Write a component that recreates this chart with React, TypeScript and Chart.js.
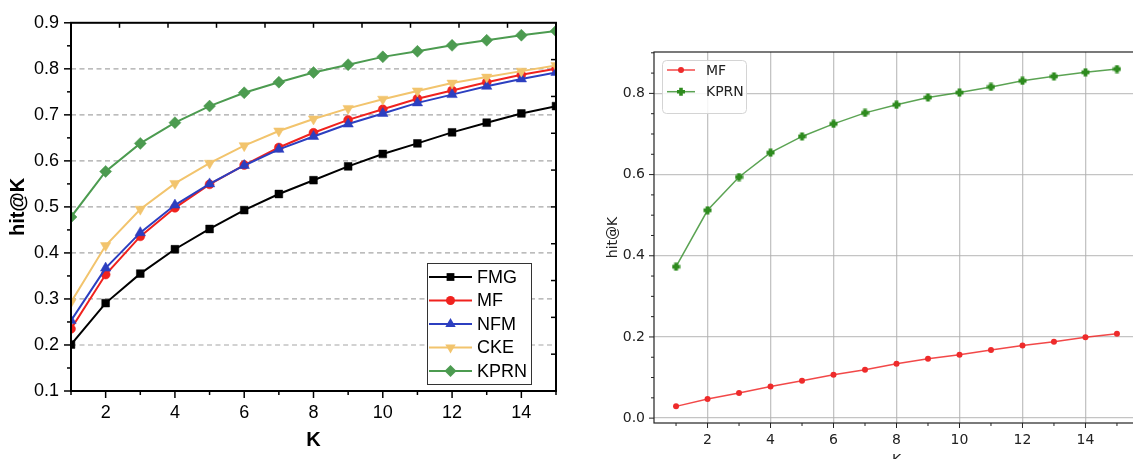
import React, { useEffect, useRef } from 'react';
import { Chart, registerables } from 'chart.js';

Chart.register(...registerables);

// ---------- data ----------
const K = [1, 2, 3, 4, 5, 6, 7, 8, 9, 10, 11, 12, 13, 14, 15];

const leftFMG = [0.201, 0.291, 0.355, 0.408, 0.452, 0.493, 0.528, 0.558, 0.588, 0.615, 0.638, 0.662, 0.683, 0.703, 0.719];
const leftMF = [0.235, 0.353, 0.436, 0.498, 0.549, 0.591, 0.629, 0.661, 0.689, 0.712, 0.735, 0.753, 0.771, 0.787, 0.800];
const leftNFM = [0.253, 0.367, 0.444, 0.504, 0.550, 0.590, 0.625, 0.653, 0.680, 0.703, 0.726, 0.744, 0.762, 0.778, 0.792];
const leftCKE = [0.293, 0.416, 0.495, 0.551, 0.595, 0.633, 0.665, 0.691, 0.714, 0.734, 0.752, 0.769, 0.782, 0.795, 0.807];
const leftKPRN = [0.478, 0.577, 0.638, 0.683, 0.719, 0.748, 0.771, 0.792, 0.809, 0.826, 0.838, 0.851, 0.862, 0.873, 0.882];

const rightMF = [0.029, 0.047, 0.062, 0.078, 0.092, 0.107, 0.119, 0.134, 0.146, 0.156, 0.168, 0.179, 0.188, 0.199, 0.208];
const rightKPRN = [0.373, 0.512, 0.594, 0.654, 0.694, 0.725, 0.752, 0.772, 0.790, 0.802, 0.816, 0.831, 0.842, 0.852, 0.860];

const leftXTicks = [2, 4, 6, 8, 10, 12, 14];
const leftYTicks = [0.1, 0.2, 0.3, 0.4, 0.5, 0.6, 0.7, 0.8, 0.9];
const rightXTicks = [2, 4, 6, 8, 10, 12, 14];
const rightYTicks = [0.0, 0.2, 0.4, 0.6, 0.8];

const leftLabels = ['FMG', 'MF', 'NFM', 'CKE', 'KPRN'];
const leftColors = ['#000000', '#f0221e', '#2c3fc0', '#f2c46d', '#4c9b50'];
const rightLabels = ['MF', 'KPRN'];

const LFONT = '"Liberation Sans", Arial, sans-serif';
const RFONT = '"DejaVu Sans", sans-serif';

// ---------- helpers ----------
function line(ctx: CanvasRenderingContext2D, x1: number, y1: number, x2: number, y2: number) {
  ctx.beginPath();
  ctx.moveTo(x1, y1);
  ctx.lineTo(x2, y2);
  ctx.stroke();
}

function drawMarker(ctx: CanvasRenderingContext2D, style: string, x: number, y: number, r: number, color: string) {
  ctx.save();
  ctx.fillStyle = color;
  ctx.beginPath();
  if (style === 'circle') {
    ctx.arc(x, y, r, 0, Math.PI * 2);
  } else if (style === 'rect') {
    const s = r * Math.SQRT1_2;
    ctx.rect(x - s, y - s, 2 * s, 2 * s);
  } else if (style === 'triangle') {
    ctx.moveTo(x, y - r);
    ctx.lineTo(x + r * 0.866, y + r * 0.5);
    ctx.lineTo(x - r * 0.866, y + r * 0.5);
    ctx.closePath();
  } else if (style === 'triangleDown') {
    ctx.moveTo(x, y + r);
    ctx.lineTo(x + r * 0.866, y - r * 0.5);
    ctx.lineTo(x - r * 0.866, y - r * 0.5);
    ctx.closePath();
  } else if (style === 'rectRot') {
    ctx.moveTo(x, y - r);
    ctx.lineTo(x + r, y);
    ctx.lineTo(x, y + r);
    ctx.lineTo(x - r, y);
    ctx.closePath();
  } else if (style === 'plus') {
    ctx.rect(x - 1.8, y - 4, 3.6, 8);
    ctx.rect(x - 4, y - 1.8, 8, 3.6);
  }
  ctx.fill();
  ctx.restore();
}

const leftMarkers = ['rect', 'circle', 'triangle', 'triangleDown', 'rectRot'];

const leftFrame = {
  id: 'leftFrame',
  beforeDatasetsDraw(chart: any) {
    const { ctx, chartArea: a, scales } = chart;
    const y = scales.y;
    ctx.save();
    ctx.strokeStyle = '#a6a6a6';
    ctx.lineWidth = 1.2;
    ctx.setLineDash([5, 3.5]);
    leftYTicks.forEach((v) => {
      if (v <= y.min + 1e-9 || v >= y.max - 1e-9) return;
      const py = y.getPixelForValue(v);
      line(ctx, a.left, py, a.right, py);
    });
    ctx.restore();
  },
  afterDatasetsDraw(chart: any) {
    const { ctx, chartArea: a, scales } = chart;
    const x = scales.x;
    const y = scales.y;
    ctx.save();
    ctx.strokeStyle = '#000';
    ctx.lineWidth = 1.5;
    for (let i = 0; i <= 16; i++) {
      const py = y.getPixelForValue(0.1 + i * 0.05);
      const len = i % 2 === 0 ? 7 : 4;
      line(ctx, a.left - len, py, a.left, py);
    }
    for (let k = 1; k <= 15; k++) {
      const px = x.getPixelForValue(k);
      const len = k % 2 === 0 ? 7 : 4;
      line(ctx, px, a.bottom, px, a.bottom + len);
    }
    for (let i = 1; i < 10; i++) {
      const px = a.left + ((a.right - a.left) * i) / 10;
      line(ctx, px, a.top, px, a.top + 5);
      const py = a.top + ((a.bottom - a.top) * i) / 10;
      line(ctx, a.right - 5, py, a.right, py);
    }
    ctx.lineWidth = 2;
    ctx.strokeRect(a.left, a.top, a.right - a.left, a.bottom - a.top);
    ctx.restore();
  },
  afterDraw(chart: any) {
    const { ctx, chartArea: a } = chart;
    const bx = a.right - 129;
    const by = a.bottom - 128;
    ctx.save();
    ctx.fillStyle = '#fff';
    ctx.fillRect(bx, by, 104, 121);
    ctx.strokeStyle = '#333';
    ctx.lineWidth = 1;
    ctx.strokeRect(bx + 0.5, by + 0.5, 104, 121);
    ctx.font = `18px ${LFONT}`;
    ctx.textBaseline = 'middle';
    ctx.textAlign = 'left';
    leftLabels.forEach((lab, i) => {
      const ry = by + 14 + i * 23.5;
      ctx.strokeStyle = leftColors[i];
      ctx.lineWidth = 2;
      line(ctx, bx + 2, ry, bx + 45, ry);
      const r = leftMarkers[i] === 'circle' ? 4.5 : leftMarkers[i] === 'rect' ? 5.5 : 6;
      drawMarker(ctx, leftMarkers[i], bx + 23.5, ry, r, leftColors[i]);
      ctx.fillStyle = '#000';
      ctx.fillText(lab, bx + 50, ry + 1);
    });
    ctx.restore();
  },
};

const RRED = '#ee2b2b';
const RRED_LINE = 'rgba(240,40,40,0.85)';
const RGREEN = '#2e8b1e';
const RGREEN_LINE = 'rgba(50,140,40,0.8)';

const rightFrame = {
  id: 'rightFrame',
  afterDatasetsDraw(chart: any) {
    const { ctx, chartArea: a, scales } = chart;
    const x = scales.x;
    const y = scales.y;
    ctx.save();
    ctx.strokeStyle = '#222';
    ctx.lineWidth = 1;
    for (let i = 0; i <= 18; i++) {
      const v = i * 0.05;
      const py = y.getPixelForValue(v);
      if (py < a.top - 0.5) continue;
      const len = i % 4 === 0 ? 5 : 3;
      line(ctx, a.left - len, py, a.left, py);
    }
    for (let k = 1; k <= 15; k++) {
      const px = x.getPixelForValue(k);
      const len = k % 2 === 0 ? 5 : 3;
      line(ctx, px, a.bottom, px, a.bottom + len);
    }
    ctx.lineWidth = 1.2;
    ctx.strokeRect(a.left, a.top, a.right - a.left, a.bottom - a.top);
    ctx.restore();
  },
  afterDraw(chart: any) {
    const { ctx, chartArea: a } = chart;
    const bx = a.left + 8;
    const by = a.top + 8;
    ctx.save();
    ctx.beginPath();
    (ctx as any).roundRect(bx + 0.5, by + 0.5, 84, 53, 4);
    ctx.fillStyle = 'rgba(255,255,255,0.85)';
    ctx.fill();
    ctx.strokeStyle = '#d4d4d4';
    ctx.lineWidth = 1;
    ctx.stroke();
    ctx.font = `14px ${RFONT}`;
    ctx.textBaseline = 'middle';
    ctx.textAlign = 'left';
    const rows = [
      { lab: rightLabels[0], lc: RRED_LINE, mc: RRED, m: 'circle' },
      { lab: rightLabels[1], lc: RGREEN_LINE, mc: RGREEN, m: 'plus' },
    ];
    rows.forEach((r, i) => {
      const ry = by + 10 + i * 21.7;
      ctx.strokeStyle = r.lc;
      ctx.lineWidth = 1.5;
      line(ctx, bx + 5, ry, bx + 33, ry);
      drawMarker(ctx, r.m, bx + 19, ry, 3, r.mc);
      ctx.fillStyle = '#222';
      ctx.fillText(r.lab, bx + 44, ry + 1);
    });
    ctx.restore();
  },
};

function makePlus(color: string) {
  const c = document.createElement('canvas');
  c.width = 9;
  c.height = 9;
  const g = c.getContext('2d')!;
  g.fillStyle = color;
  g.fillRect(2.6, 0.5, 3.8, 8);
  g.fillRect(0.5, 2.6, 8, 3.8);
  return c;
}

export default function App() {
  const leftRef = useRef<HTMLCanvasElement>(null);
  const rightRef = useRef<HTMLCanvasElement>(null);

  useEffect(() => {
    const leftValues = [leftFMG, leftMF, leftNFM, leftCKE, leftKPRN];
    const styles = ['rect', 'circle', 'triangle', 'triangle', 'rectRot'];
    const radii = [5.5, 4.5, 6, 6, 6];
    const rotations = [0, 0, 0, 180, 0];

    const left = new Chart(leftRef.current!, {
      type: 'line',
      data: {
        datasets: leftValues.map((vals, i) => ({
          label: leftLabels[i],
          data: K.map((k, j) => ({ x: k, y: vals[j] })),
          borderColor: leftColors[i],
          backgroundColor: leftColors[i],
          pointBackgroundColor: leftColors[i],
          pointBorderColor: leftColors[i],
          pointBorderWidth: 0.5,
          pointStyle: styles[i] as any,
          pointRadius: radii[i],
          pointRotation: rotations[i],
          borderWidth: 2,
          tension: 0,
          order: 4 - i,
        })),
      },
      options: {
        animation: false,
        responsive: false,
        events: [],
        layout: { padding: { top: 20, right: 24, left: 0, bottom: 0 } },
        plugins: { legend: { display: false }, tooltip: { enabled: false } },
        scales: {
          x: {
            type: 'linear',
            min: 1,
            max: 15,
            afterBuildTicks: (s: any) => {
              s.ticks = leftXTicks.map((v) => ({ value: v }));
            },
            afterFit: (s: any) => {
              s.height = 68;
            },
            grid: { display: false, drawTicks: false },
            border: { display: false },
            ticks: {
              font: { family: LFONT, size: 18 },
              color: '#000',
              padding: 11,
              maxRotation: 0,
              autoSkip: false,
              callback: (v: any) => String(v),
            },
            title: {
              display: true,
              text: 'K',
              color: '#000',
              font: { family: LFONT, size: 20, weight: 'bold' },
              padding: { top: 0, bottom: 7 },
            },
          },
          y: {
            type: 'linear',
            min: 0.1,
            max: 0.9,
            afterBuildTicks: (s: any) => {
              s.ticks = leftYTicks.map((v) => ({ value: v }));
            },
            afterFit: (s: any) => {
              s.width = 71;
            },
            grid: { display: false, drawTicks: false },
            border: { display: false },
            ticks: {
              font: { family: LFONT, size: 18 },
              color: '#000',
              padding: 12,
              autoSkip: false,
              callback: (v: any) => Number(v).toFixed(1),
            },
            title: {
              display: true,
              text: 'hit@K',
              color: '#000',
              font: { family: LFONT, size: 20, weight: 'bold' },
              padding: { top: 6, bottom: 0 },
            },
          },
        },
      } as any,
      plugins: [leftFrame],
    });

    const plus = makePlus(RGREEN);
    const right = new Chart(rightRef.current!, {
      type: 'line',
      data: {
        datasets: [
          {
            label: rightLabels[0],
            data: K.map((k, j) => ({ x: k, y: rightMF[j] })),
            borderColor: RRED_LINE,
            backgroundColor: RRED,
            pointBackgroundColor: RRED,
            pointBorderColor: RRED,
            pointBorderWidth: 0,
            pointStyle: 'circle',
            pointRadius: 3,
            borderWidth: 1.5,
            tension: 0,
          },
          {
            label: rightLabels[1],
            data: K.map((k, j) => ({ x: k, y: rightKPRN[j] })),
            borderColor: RGREEN_LINE,
            backgroundColor: RGREEN,
            pointStyle: plus as any,
            pointRadius: 4,
            borderWidth: 1.5,
            tension: 0,
          },
        ],
      },
      options: {
        animation: false,
        responsive: false,
        events: [],
        layout: { padding: { top: 52, right: 21, left: 0, bottom: 0 } },
        plugins: { legend: { display: false }, tooltip: { enabled: false } },
        scales: {
          x: {
            type: 'linear',
            min: 0.3,
            max: 15.7,
            afterBuildTicks: (s: any) => {
              s.ticks = rightXTicks.map((v) => ({ value: v }));
            },
            afterFit: (s: any) => {
              s.height = 57;
            },
            grid: { color: 'rgba(176,176,176,0.75)', lineWidth: 1.3, drawTicks: false },
            border: { display: false },
            ticks: {
              font: { family: RFONT, size: 14 },
              color: '#222',
              padding: 9,
              maxRotation: 0,
              autoSkip: false,
              callback: (v: any) => String(v),
            },
            title: {
              display: true,
              text: 'K',
              color: '#222',
              font: { family: RFONT, size: 14 },
              padding: { top: 0, bottom: 11.6 },
            },
          },
          y: {
            type: 'linear',
            min: -0.012,
            max: 0.902,
            afterBuildTicks: (s: any) => {
              s.ticks = rightYTicks.map((v) => ({ value: v }));
            },
            afterFit: (s: any) => {
              s.width = 74;
            },
            grid: { color: 'rgba(176,176,176,0.75)', lineWidth: 1.3, drawTicks: false },
            border: { display: false },
            ticks: {
              font: { family: RFONT, size: 14 },
              color: '#222',
              padding: 9,
              autoSkip: false,
              callback: (v: any) => Number(v).toFixed(1),
            },
            title: {
              display: true,
              text: 'hit@K',
              color: '#222',
              font: { family: RFONT, size: 14 },
              padding: { top: 24.6, bottom: 0 },
            },
          },
        },
      } as any,
      plugins: [rightFrame],
    });

    return () => {
      left.destroy();
      right.destroy();
    };
  }, []);

  return (
    <div
      style={{
        position: 'fixed',
        left: 0,
        top: 0,
        width: 1133,
        height: 459,
        overflow: 'hidden',
        background: '#fff',
      }}
    >
      <canvas ref={leftRef} width={580} height={459} style={{ position: 'absolute', left: 0, top: 0 }} />
      <canvas ref={rightRef} width={580} height={480} style={{ position: 'absolute', left: 580, top: 0 }} />
    </div>
  );
}
